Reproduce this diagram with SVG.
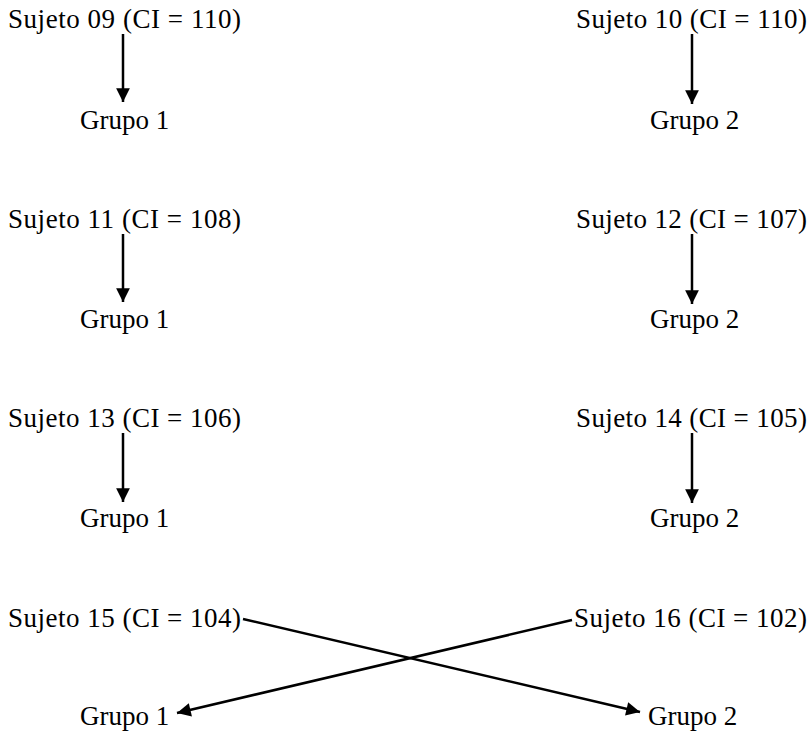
<svg xmlns="http://www.w3.org/2000/svg" width="811" height="733" viewBox="0 0 811 733">
<defs>
<marker id="ah" viewBox="0 0 10 10" refX="10" refY="5" markerWidth="6.5" markerHeight="5.5" markerUnits="strokeWidth" orient="auto">
<path d="M0,0 L10,5 L0,10 Z" fill="#000"/>
</marker>
<style>
text{font-family:"Liberation Serif","Times New Roman",serif;font-size:27px;fill:#000}
.c line{stroke:#000;stroke-width:2.5;marker-end:url(#ah)}
</style>
</defs>
<rect width="811" height="733" fill="#fff"/>
<g id="s09"><text x="8" y="28" textLength="233" lengthAdjust="spacing">Sujeto 09 (CI = 110)</text></g>
<g id="g1a"><text x="80" y="129">Grupo 1</text></g>
<g id="s10"><text x="576" y="28" textLength="231" lengthAdjust="spacing">Sujeto 10 (CI = 110)</text></g>
<g id="g2a"><text x="650" y="129">Grupo 2</text></g>
<g id="s11"><text x="8" y="228" textLength="233" lengthAdjust="spacing">Sujeto 11 (CI = 108)</text></g>
<g id="g1b"><text x="80" y="328">Grupo 1</text></g>
<g id="s12"><text x="576" y="228" textLength="231" lengthAdjust="spacing">Sujeto 12 (CI = 107)</text></g>
<g id="g2b"><text x="650" y="328">Grupo 2</text></g>
<g id="s13"><text x="8" y="427" textLength="233" lengthAdjust="spacing">Sujeto 13 (CI = 106)</text></g>
<g id="g1c"><text x="80" y="527">Grupo 1</text></g>
<g id="s14"><text x="576" y="427" textLength="231" lengthAdjust="spacing">Sujeto 14 (CI = 105)</text></g>
<g id="g2c"><text x="650" y="527">Grupo 2</text></g>
<g id="s15"><text x="8" y="627" textLength="233" lengthAdjust="spacing">Sujeto 15 (CI = 104)</text></g>
<g id="g1d"><text x="80" y="725">Grupo 1</text></g>
<g id="s16"><text x="574" y="627" textLength="233" lengthAdjust="spacing">Sujeto 16 (CI = 102)</text></g>
<g id="g2d"><text x="648" y="725">Grupo 2</text></g>
<g class="c" id="connectors">
<line x1="123" y1="34" x2="123" y2="102"/>
<line x1="692" y1="34" x2="692" y2="104"/>
<line x1="123" y1="234" x2="123" y2="302"/>
<line x1="692" y1="234" x2="692" y2="304"/>
<line x1="123" y1="433" x2="123" y2="502"/>
<line x1="692" y1="433" x2="692" y2="503"/>
<line x1="243" y1="619" x2="640" y2="712"/>
<line x1="572" y1="620" x2="177" y2="713"/>
</g>
</svg>
